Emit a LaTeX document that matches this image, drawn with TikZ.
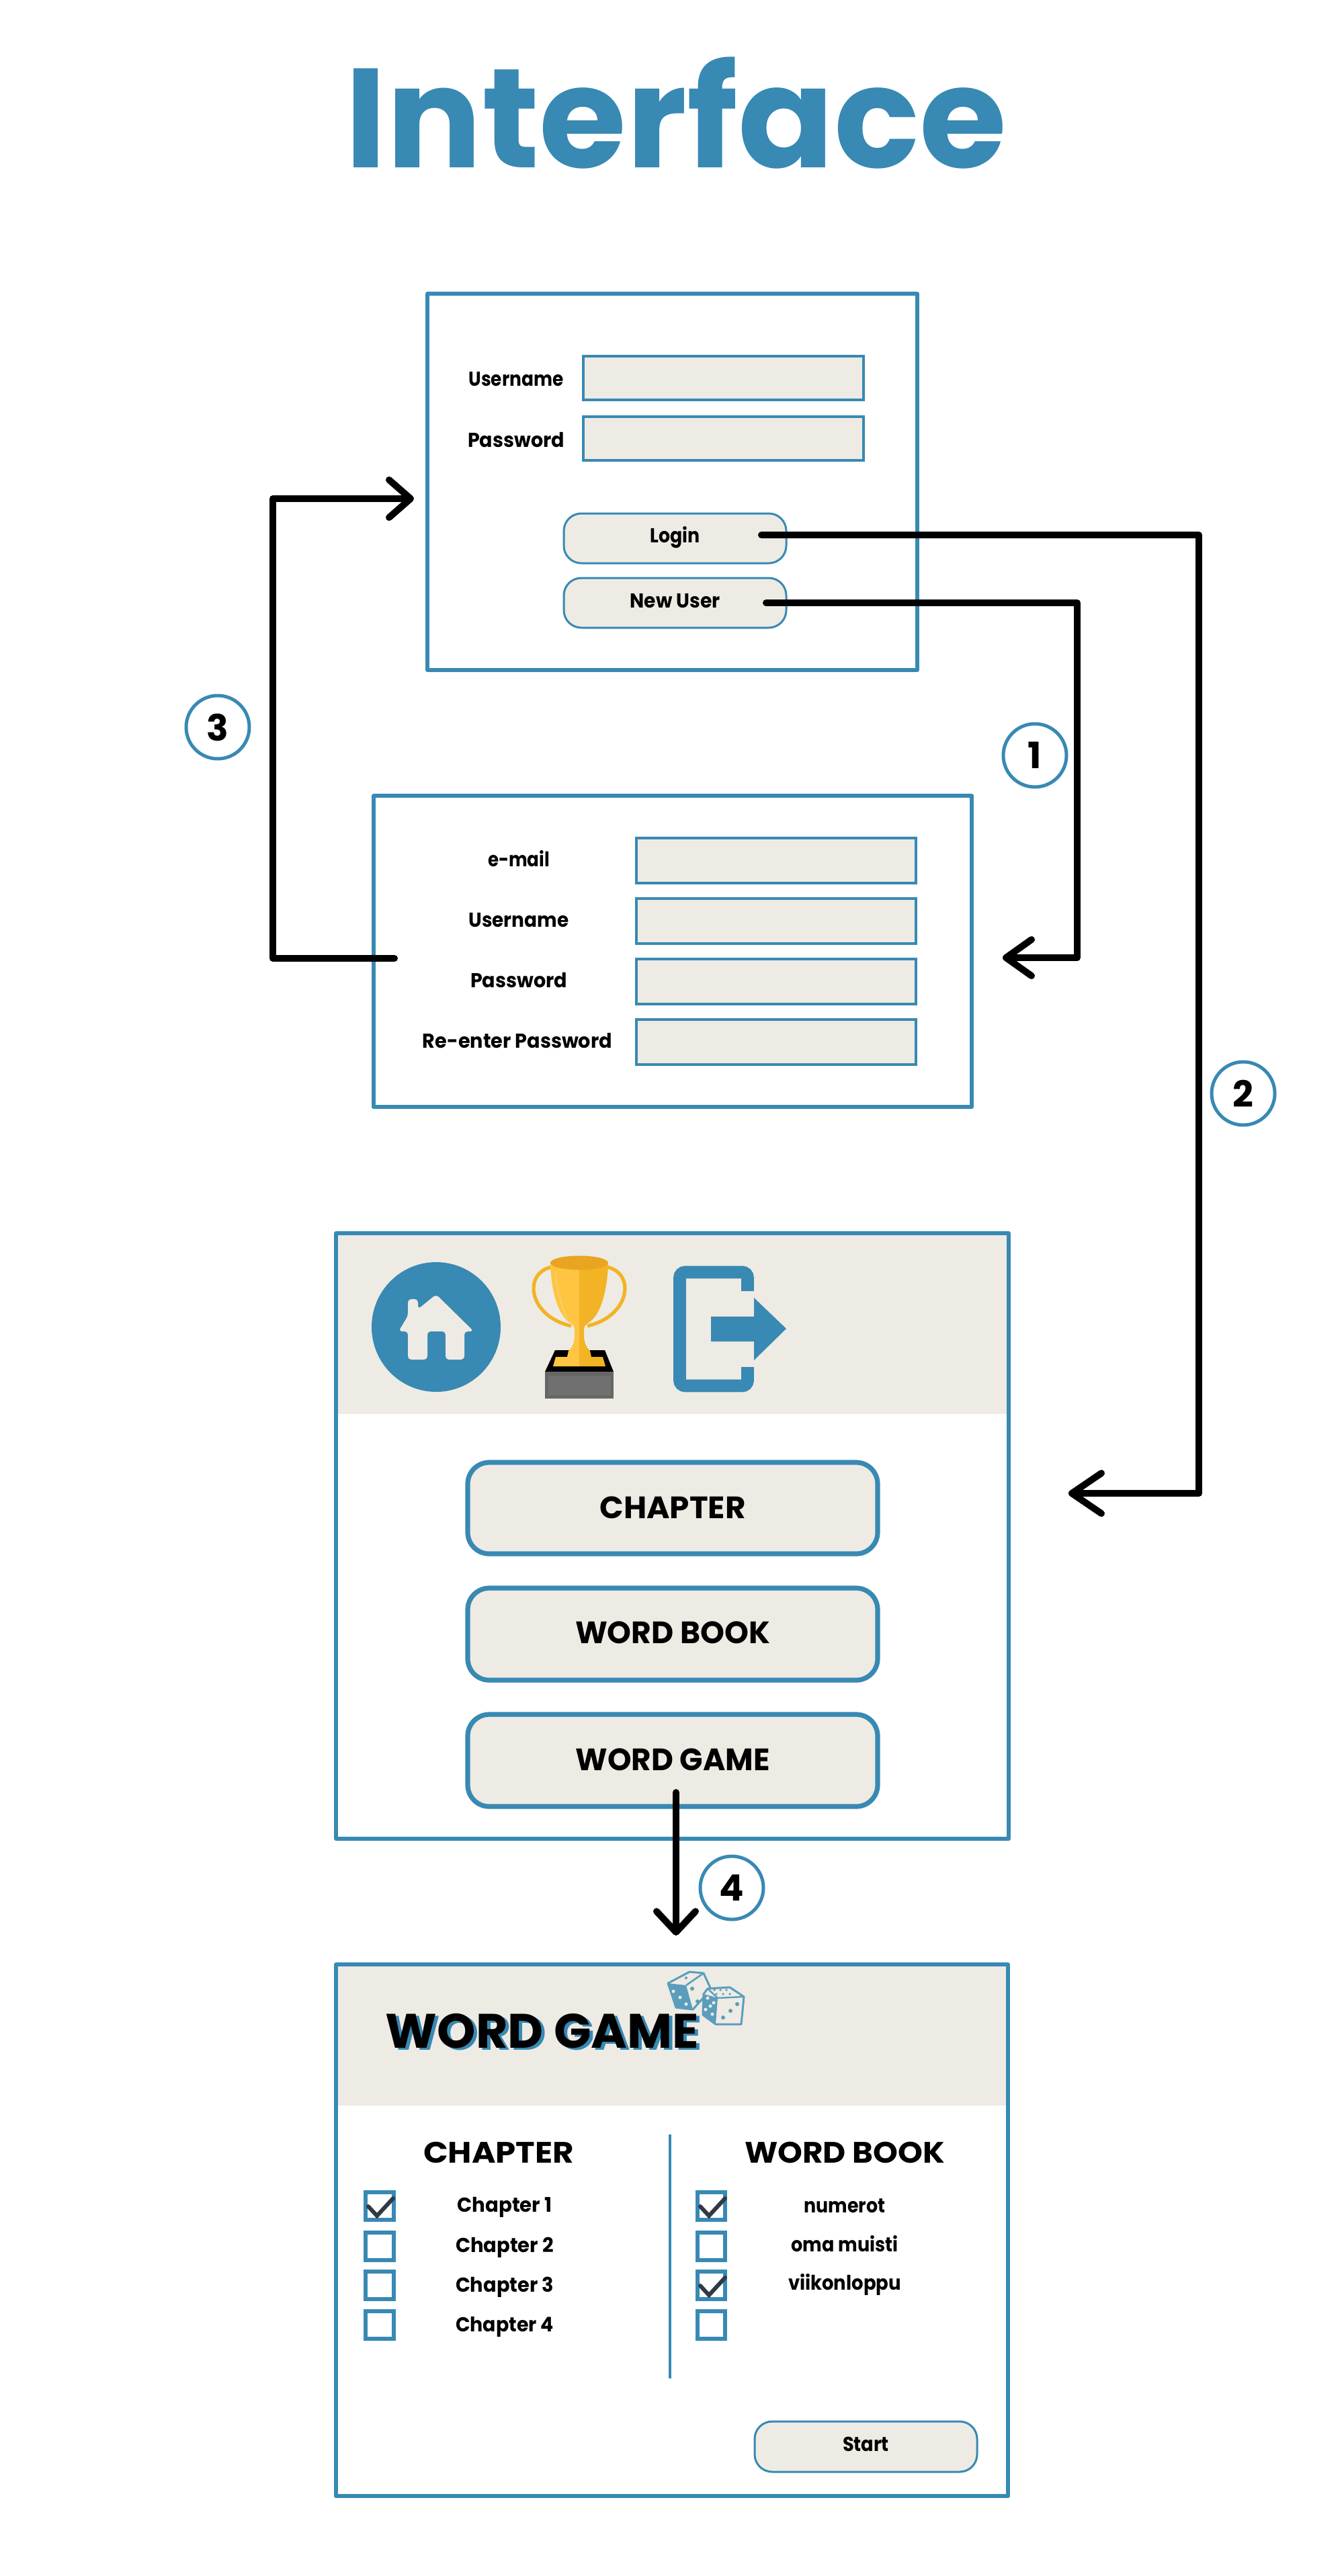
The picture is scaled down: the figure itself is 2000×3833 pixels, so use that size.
\documentclass[tikz,border=0pt]{standalone}
\usepackage{fontspec}
\usepackage{graphicx}
\setmainfont{Poppins}[BoldFont={Poppins}, BoldFeatures={FakeBold=0}]
\newfontfamily\popb{Poppins Bold}
\newfontfamily\pops{Poppins SemiBold}
\usetikzlibrary{arrows.meta}
\definecolor{bl}{HTML}{3889B3}
\definecolor{bg}{HTML}{EEEBE4}
\definecolor{ck}{HTML}{2F3A45}
\definecolor{dc}{HTML}{5B9DBD}
\definecolor{gA}{HTML}{FFC542}
\definecolor{gB}{HTML}{F2B324}
\definecolor{gC}{HTML}{E9A51F}
\newdimen\pxu \pxu=0.5pt
\newcommand{\fw}[2]{\resizebox{#1\pxu}{\height}{#2}}
\newcommand{\sz}[1]{\fontsize{#1}{#1}\selectfont}
\tikzset{
 box/.style n args={4}{minimum width={(#3-#1)*0.5pt},minimum height={(#4-#2)*0.5pt},at={({(#1+#3)/2},{(#2+#4)/2})},inner sep=0pt,outer sep=0pt,rectangle},
 frame/.style={draw=bl,line width=2.7pt,line join=round},
 field/.style={draw=bl,fill=bg,line width=1.9pt},
 smallbtn/.style={draw=bl,fill=bg,line width=1.5pt,rounded corners=13pt,font=\popb\sz{15}},
 bigbtn/.style={draw=bl,fill=bg,line width=3.6pt,rounded corners=16pt,font=\popb\sz{23}},
 chk/.style={draw=bl,line width=2.8pt},
 lbl/.style={anchor=base,inner sep=0pt,outer sep=0pt,font=\popb\sz{15}},
 head/.style={anchor=base,inner sep=0pt,outer sep=0pt,font=\popb\sz{22}},
 badge/.style={circle,draw=bl,fill=white,line width=2.5pt,minimum size=47pt,inner sep=0pt,font=\popb\sz{27}},
 flow/.style n args={2}{draw=black,line width=5pt,line cap=round,line join=round,-{Straight Barb[length=#1*0.5pt,width=#2*0.5pt,round]}},
 tick/.style={draw=ck,line width=3pt,line cap=round,line join=miter},
}
\begin{document}
\begin{tikzpicture}[x=0.5pt,y=-0.5pt]
\useasboundingbox (0,0) rectangle (2000,3833);
\fill[white] (0,0) rectangle (2000,3833);
% title
\node[anchor=base,inner sep=0pt,text=bl,font=\popb\sz{105}] (title) at (1006,249) {\fw{985}{Interface}};
% frames bands
\fill[bg] (500,1835) rectangle (1501,2104);
\fill[bg] (500,2923) rectangle (1500,3133);
\node[frame,box={636}{437}{1365}{997}] (loginframe) {};
\node[frame,box={556}{1184}{1446}{1647}] (signupframe) {};
\node[frame,box={500}{1835}{1501}{2736}] (menuframe) {};
\node[frame,box={500}{2923}{1500}{3714}] (gameframe) {};
% login
\node[field,box={868}{530}{1285}{595}] (f1) {};
\node[field,box={868}{620}{1285}{685}] (f2) {};
\node[lbl] (l1) at (768,574) {\fw{141}{Username}};
\node[lbl] (l2) at (768,665) {\fw{144}{Password}};
\node[smallbtn,box={839}{764}{1170}{838},text height=10pt,text depth=4pt] (login) {\fw{74}{Login}};
\node[smallbtn,box={839}{860}{1170}{934},text height=10pt,text depth=2.5pt] (newuser) {\fw{134}{New User}};
% signup
\node[field,box={947}{1247}{1363}{1314}] (s1) {};
\node[field,box={947}{1337}{1363}{1404}] (s2) {};
\node[field,box={947}{1427}{1363}{1494}] (s3) {};
\node[field,box={947}{1517}{1363}{1584}] (s4) {};
\node[lbl] (m1) at (772,1289) {\fw{92}{e-mail}};
\node[lbl] (m2) at (772,1379) {\fw{149}{Username}};
\node[lbl] (m3) at (772,1469) {\fw{144}{Password}};
\node[lbl] (m4) at (770,1559) {\fw{282}{Re-enter Password}};
% home icon
\fill[bl] (649,1974.5) ellipse [x radius=96,y radius=96.5];
\fill[bg,rounded corners=2.5pt] (649,1926) -- (705,1981) -- (691,1981) -- (691,2023) -- (663,2023) -- (663,1981) -- (636,1981) -- (636,2023) -- (607,2023) -- (607,1981) -- (593,1981) -- (607,1958) -- (607,1933) -- (622,1933) -- (622,1948) -- cycle;
% trophy
\draw[gB,line width=2.6pt] (822,1885) .. controls (778,1893) and (785,1958) .. (850,1973);
\draw[gB,line width=2.6pt] (902,1885) .. controls (946,1893) and (939,1958) .. (874,1973);
\fill[black] (826,2009) -- (900,2009) -- (913,2041) -- (811,2041) -- cycle;
\fill[gray!80!black] (811,2041) rectangle (913,2081);
\fill[gray!75!black!90] (816,2047) rectangle (909,2076);
\fill[gA] (819,1880) .. controls (820,1915) and (828,1955) .. (848,1968) .. controls (856,1973) and (855,1976) .. (855,1985) .. controls (855,2000) and (851,2005) .. (846,2010) -- (844,2019) -- (827,2019) -- (823,2033) -- (862,2033) -- (862,1880) -- cycle;
\fill[gB] (905,1880) .. controls (904,1915) and (896,1955) .. (876,1968) .. controls (868,1973) and (869,1976) .. (869,1985) .. controls (869,2000) and (873,2005) .. (878,2010) -- (880,2019) -- (897,2019) -- (901,2033) -- (862,2033) -- (862,1880) -- cycle;
\fill[gC] (862,1879) ellipse [x radius=43,y radius=10.5];
\draw[gB!50!gA!70!white,line width=.8pt] (827,1893) .. controls (829,1920) and (835,1945) .. (845,1963);
\draw[gC!60!gA,line width=.8pt] (897,1893) .. controls (895,1920) and (889,1945) .. (879,1963);
% exit icon
\draw[bl,line width=9.3pt,rounded corners=4pt,line cap=butt] (1112.5,1921) -- (1112.5,1893) -- (1011.5,1893) -- (1011.5,2062) -- (1112.5,2062) -- (1112.5,2034);
\fill[bl] (1058,1959) -- (1122,1959) -- (1122,1931) -- (1170,1977) -- (1122,2024) -- (1122,1996) -- (1058,1996) -- cycle;
% menu
\node[bigbtn,box={696}{2176}{1306}{2312},text height=16pt,text depth=.5pt] (bchap) {\fw{217}{CHAPTER}};
\node[bigbtn,box={696}{2363}{1306}{2500},text height=16pt,text depth=2pt] (bword) {\fw{290}{WORD BOOK}};
\node[bigbtn,box={696}{2551}{1306}{2688},text height=16pt,text depth=1.5pt] (bgame) {\fw{289}{WORD GAME}};
% game heading
\node[head,font=\popb\sz{36},text=bl] (gshadow) at (812,3050) {\fw{466}{WORD GAME}};
\node[head,font=\popb\sz{36}] (gtitle) at (807,3047) {\fw{466}{WORD GAME}};
% dice
\begin{scope}[line join=round]
\filldraw[draw=dc,fill=bg,line width=1.5pt] (994,2951) -- (1026,2934) -- (1047,2936) -- (1058,2960) -- (1031,2990) -- (1006,2987) -- cycle;
\fill[dc] (994,2951) -- (1021,2954) -- (1031,2990) -- (1006,2987) -- cycle;
\draw[dc,line width=1.3pt] (1021,2954) -- (1047,2936);
\fill[dc] (1021,2943) circle [radius=2] (1030,2959) circle [radius=3] (1038,2978) circle [radius=3];
\fill[bg] (1002,2963) circle [radius=2.5] (1021,2982) circle [radius=2.5] (1012,2972) circle [radius=2.5];
\filldraw[draw=dc,fill=bg,line width=1.5pt] (1047,2967) -- (1053,2959) -- (1086,2957) -- (1107,2971) -- (1103,3012) -- (1065,3012) -- (1046,2998) -- cycle;
\fill[dc] (1047,2967) -- (1068,2973) -- (1065,3012) -- (1046,2998) -- cycle;
\draw[dc,line width=1.2pt] (1068,2973) -- (1107,2971) (1068,2973) -- (1053,2959);
\fill[dc] (1097,2982) circle [radius=3] (1087,2992) circle [radius=3] (1076,3002) circle [radius=3];
\foreach \p in {(1063,2961),(1072,2961),(1081,2961),(1066,2967),(1076,2967),(1086,2967)} \fill[dc] \p circle [radius=1.8];
\foreach \p in {(1053,2973),(1057,2985),(1060,2997),(1050,2990),(1062,2980)} \fill[bg] \p circle [radius=2.5];
\end{scope}
% game content
\draw[bl,line width=2.2pt] (997,3176) -- (997,3539);
\node[head] (hc) at (742,3218) {\fw{224}{CHAPTER}};
\node[head] (hw) at (1257,3218) {\fw{298}{WORD BOOK}};
\node[chk,box={544}{3262}{586}{3303}] (c1) {};
\node[chk,box={544}{3322}{586}{3363}] (c2) {};
\node[chk,box={544}{3380}{586}{3421}] (c3) {};
\node[chk,box={544}{3439}{586}{3480}] (c4) {};
\node[chk,box={1038}{3262}{1079}{3303}] (w1) {};
\node[chk,box={1038}{3322}{1079}{3363}] (w2) {};
\node[chk,box={1038}{3380}{1079}{3421}] (w3) {};
\node[chk,box={1038}{3439}{1079}{3480}] (w4) {};
\draw[tick] (548,3283) -- (561,3297) -- (585,3271);
\draw[tick] (1042,3283) -- (1055,3297) -- (1079,3271);
\draw[tick] (1042,3401) -- (1055,3415) -- (1079,3389);
\node[lbl] (t1) at (751,3291) {\fw{141}{Chapter 1}};
\node[lbl] (t2) at (751,3351) {\fw{146}{Chapter 2}};
\node[lbl] (t3) at (751,3410) {\fw{146}{Chapter 3}};
\node[lbl] (t4) at (751,3469) {\fw{146}{Chapter 4}};
\node[lbl] (n1) at (1257,3292) {\fw{121}{numerot}};
\node[lbl] (n2) at (1257,3350) {\fw{159}{oma muisti}};
\node[lbl] (n3) at (1257,3407) {\fw{168}{viikonloppu}};
\node[smallbtn,box={1123}{3603}{1454}{3678},text height=10.5pt,text depth=4pt] (start) {\fw{69}{Start}};
% connector ends
\coordinate (a1s) at (1140,897); \coordinate (a1c) at (1603,897); \coordinate (a1d) at (1603,1425); \coordinate (a1e) at (1492,1425);
\coordinate (a2s) at (1133,796); \coordinate (a2c) at (1784,796); \coordinate (a2d) at (1784,2222); \coordinate (a2e) at (1590,2222);
\coordinate (a3s) at (587,1426); \coordinate (a3c) at (406,1426); \coordinate (a3d) at (406,742); \coordinate (a3e) at (616,742);
\coordinate (a4s) at (1006,2667); \coordinate (a4e) at (1006,2880);
\path[flow={38}{54}] (a1s) -- (a1c) -- (a1d) -- (a1e);
\path[flow={44}{60}] (a2s) -- (a2c) -- (a2d) -- (a2e);
\path[flow={32}{56}] (a3s) -- (a3c) -- (a3d) -- (a3e);
\path[flow={31}{58}] (a4s) -- (a4e);
% badges
\node[badge] (b1) at (1540,1124) {1};
\node[badge] (b2) at (1850,1627) {2};
\node[badge] (b3) at (324,1082) {3};
\node[badge] (b4) at (1089,2809) {4};
\end{tikzpicture}
\end{document}
